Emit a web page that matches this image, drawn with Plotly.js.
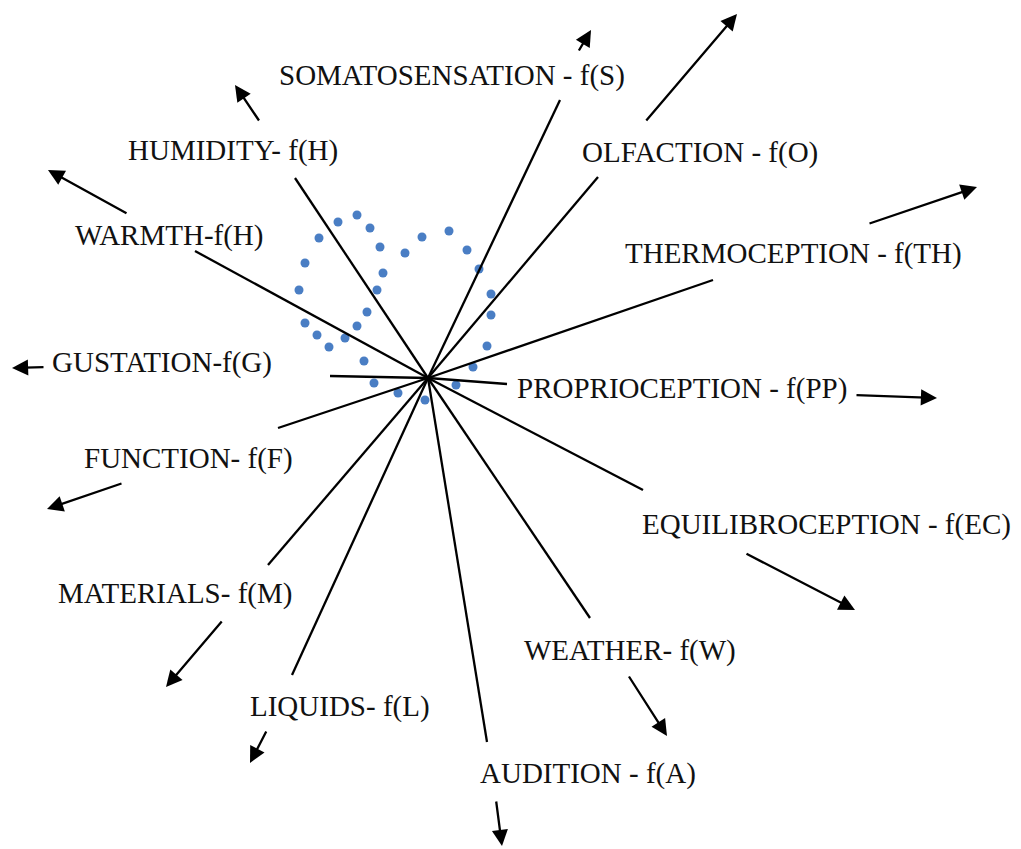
<!DOCTYPE html>
<html>
<head>
<meta charset="utf-8">
<script src="https://cdn.plot.ly/plotly-3.0.1.min.js"></script>
<style>html,body{margin:0;padding:0;background:#fff;}#chart{width:1021px;height:849px;}</style>
</head>
<body>
<div id="chart"></div>
<script>
// Hub of the radial diagram
const hubX = 428;
const hubY = 378;

// Category labels (clockwise from top)
const labels = [
  "SOMATOSENSATION - f(S)", "OLFACTION - f(O)", "THERMOCEPTION - f(TH)",
  "PROPRIOCEPTION - f(PP)", "EQUILIBROCEPTION - f(EC)", "WEATHER- f(W)",
  "AUDITION - f(A)", "LIQUIDS- f(L)", "MATERIALS- f(M)", "FUNCTION- f(F)",
  "GUSTATION-f(G)", "WARMTH-f(H)", "HUMIDITY- f(H)"
];
const labelX = [452, 700, 793, 682, 826, 630, 588, 340, 175, 188, 162, 169, 233];
const labelY = [75, 152, 253, 388, 524, 650, 773, 706, 593, 458, 362, 235, 150];

// Spoke end points (from hub)
const spokeX = [560, 598, 713, 507, 643, 590, 487, 292, 268, 278, 330, 195, 295];
const spokeY = [100, 177, 280, 384, 490, 618, 742, 675, 565, 428, 376, 251, 178];

// Outer arrows: tail and tip
const arrowTailX = [578, 645, 868, 855, 745, 628, 496, 267, 223, 123, 45, 128, 260];
const arrowTailY = [52, 122, 224, 395, 553, 675, 800, 730, 620, 483, 367, 214, 122];
const arrowTipX  = [591, 737, 977, 937, 855, 667, 502, 250, 166, 47, 12, 48, 235];
const arrowTipY  = [30, 14, 187, 398, 610, 736, 846, 763, 687, 509, 368, 170, 85];

// Blue dots
const dotX = [357, 338, 370, 319, 380, 405, 422, 449, 467, 479, 305, 383, 299, 377, 491, 367, 491, 305, 357, 317, 345, 329, 487, 364, 473, 374, 456, 398, 425];
const dotY = [215, 222, 228, 238, 247, 253, 237, 231, 250, 269, 263, 273, 290, 290, 294, 312, 315, 323, 326, 335, 338, 347, 346, 361, 367, 383, 385, 393, 400];

const sx = [], sy = [];
for (let i = 0; i < spokeX.length; i++) {
  sx.push(hubX, spokeX[i], null);
  sy.push(hubY, spokeY[i], null);
}

const traces = [
  {x: dotX, y: dotY, mode: 'markers', type: 'scatter',
   marker: {color: '#4a7ec4', size: 9}, hoverinfo: 'skip'},
  {x: sx, y: sy, mode: 'lines', type: 'scatter',
   line: {color: '#000', width: 2.3}, hoverinfo: 'skip'}
];

const annotations = [];
for (let i = 0; i < labels.length; i++) {
  annotations.push({
    x: labelX[i], y: labelY[i], xref: 'x', yref: 'y', text: labels[i],
    showarrow: false, xanchor: 'center', yanchor: 'middle',
    font: {family: 'Liberation Serif, Times New Roman, serif', size: 29, color: '#111'}
  });
  annotations.push({
    x: arrowTipX[i], y: arrowTipY[i], ax: arrowTailX[i], ay: arrowTailY[i],
    xref: 'x', yref: 'y', axref: 'x', ayref: 'y', text: '',
    showarrow: true, arrowhead: 2, arrowsize: 1.4, arrowwidth: 2.3, arrowcolor: '#000',
    standoff: 0, startstandoff: 0
  });
}

const layout = {
  width: 1021, height: 849,
  margin: {l: 0, r: 0, t: 0, b: 0},
  paper_bgcolor: '#fff', plot_bgcolor: '#fff',
  showlegend: false,
  xaxis: {range: [0, 1021], visible: false, fixedrange: true},
  yaxis: {range: [849, 0], visible: false, fixedrange: true},
  annotations: annotations
};

Plotly.newPlot('chart', traces, layout, {displayModeBar: false, staticPlot: true});
</script>
</body>
</html>
